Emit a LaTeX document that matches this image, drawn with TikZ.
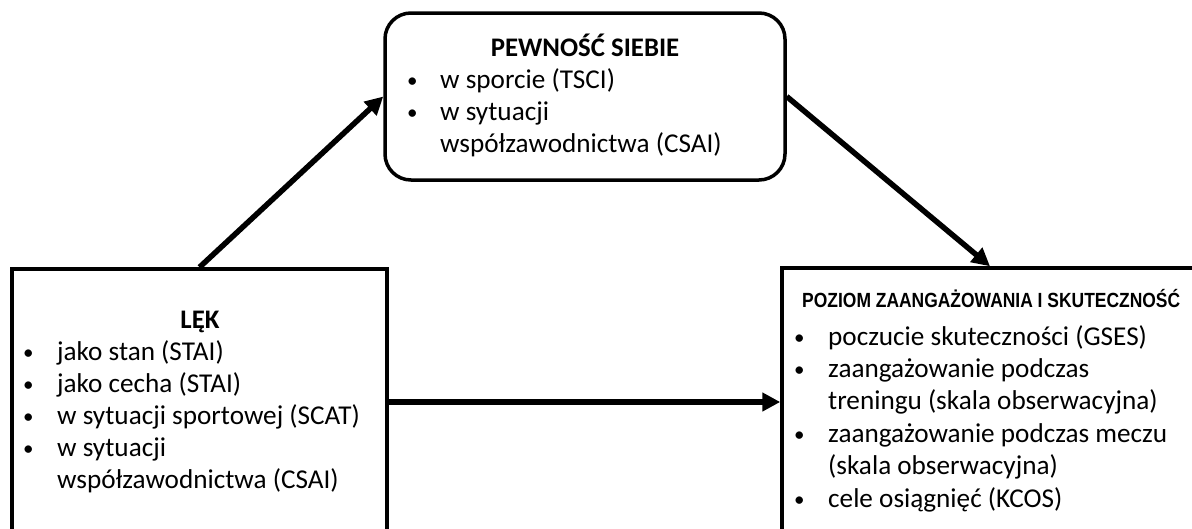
\documentclass[tikz,border=0pt]{standalone}
\usepackage{fontspec}
\setmainfont{Carlito}
\newfontfamily\arialf{Liberation Sans}
\usetikzlibrary{arrows.meta}
\newcommand{\bul}{\raisebox{1pt}{\fontsize{21}{21}\selectfont\textbullet}}
\begin{document}
\begin{tikzpicture}[x=1pt,y=-1pt,
  box/.style={draw, line width=3.5pt, inner sep=0pt, fill=white},
  arr/.style={line width=5.5pt, -{Triangle[length=18pt,width=18pt]}},
  txt/.style={inner sep=0pt, anchor=base west, font=\fontsize{27.2}{32}\selectfont},
  ttl/.style={inner sep=0pt, anchor=base, font=\fontsize{26.8}{32}\selectfont\bfseries},
]
\clip (0,0) rectangle (1192,528);
% boxes
\node[box, minimum width=375pt, minimum height=266pt] (L) at (199.5,402) {};
\node[box, minimum width=416pt, minimum height=268pt] (R) at (990,402) {};
\node[box, rounded corners=26pt, minimum width=400pt, minimum height=167pt] (P) at (585,96.5) {};
% titles
\node[ttl] (Pt) at (585,56) {PEWNOŚĆ SIEBIE};
\node[ttl] (Lt) at (200,328) {LĘK};
\node[inner sep=0pt, anchor=base west] (Rt) at (802,307) {\resizebox{378pt}{\height}{\fontsize{20.5}{23}\arialf\bfseries POZIOM ZAANGAŻOWANIA I SKUTECZNOŚĆ}};
% lists
\node[txt] (Pl) at (407,88) {\fontsize{27.2}{32}\selectfont\begin{tabular}[t]{@{}p{33pt}@{}l@{}}
\bul & w sporcie (TSCI)\\
\bul & w sytuacji\\
 & współzawodnictwa (CSAI)
\end{tabular}};
\node[txt] (Ll) at (23,360) {\fontsize{27.2}{32.2}\selectfont\begin{tabular}[t]{@{}p{34pt}@{}l@{}}
\bul & jako stan (STAI)\\
\bul & jako cecha (STAI)\\
\bul & w sytuacji sportowej (SCAT)\\
\bul & w sytuacji\\
 & współzawodnictwa (CSAI)
\end{tabular}};
\node[txt] (Rl) at (794,345) {\fontsize{27.2}{32.4}\selectfont\begin{tabular}[t]{@{}p{34pt}@{}l@{}}
\bul & poczucie skuteczności (GSES)\\
\bul & zaangażowanie podczas\\
 & treningu (skala obserwacyjna)\\
\bul & zaangażowanie podczas meczu\\
 & (skala obserwacyjna)\\
\bul & cele osiągnięć (KCOS)
\end{tabular}};
% arrows
\draw[arr] (L.north) -- (P.west);
\draw[arr] (P.east) -- (R.north);
\draw[arr] (L.east) -- (R.west);
\end{tikzpicture}
\end{document}
